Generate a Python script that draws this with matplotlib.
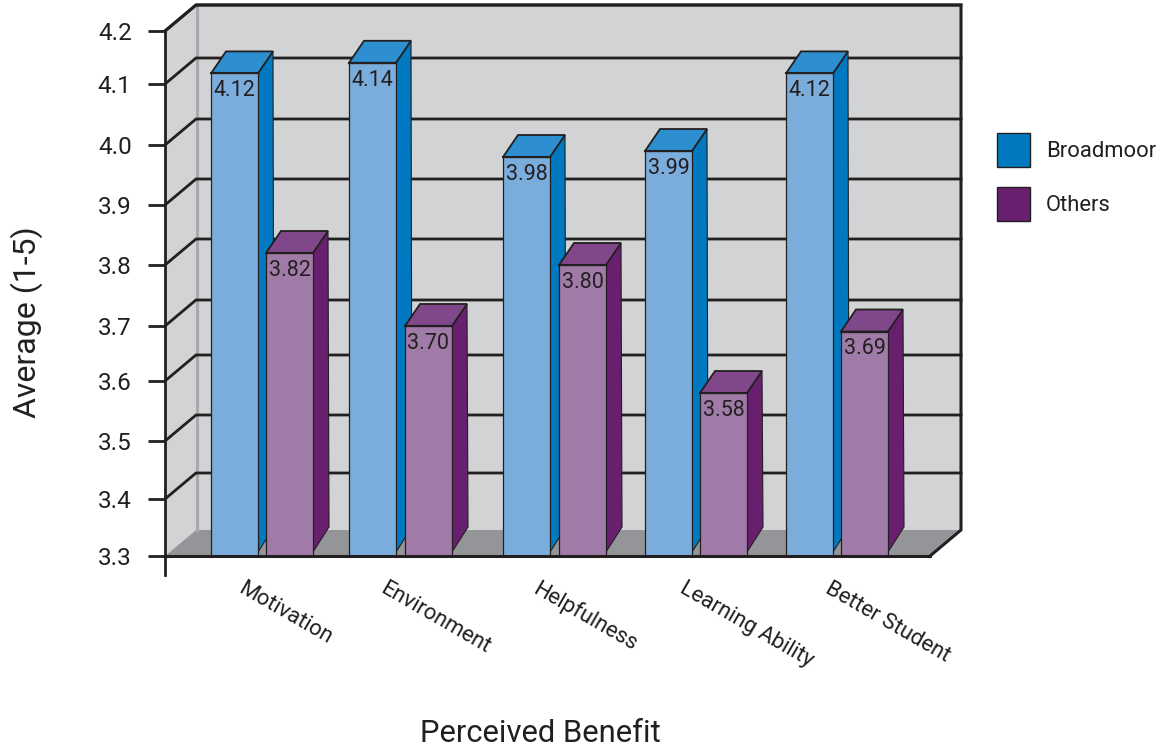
import numpy as np
import matplotlib
matplotlib.use("Agg")
import matplotlib.pyplot as plt
from matplotlib.patches import Polygon, Patch
from matplotlib.lines import Line2D
from matplotlib.transforms import IdentityTransform

plt.rcParams['font.family'] = ['Roboto', 'Liberation Sans', 'DejaVu Sans']

# Survey averages
categories = ['Motivation', 'Environment', 'Helpfulness', 'Learning Ability', 'Better Student']
broadmoor = [4.12, 4.14, 3.98, 3.99, 4.12]
others = [3.82, 3.70, 3.80, 3.58, 3.69]
y_levels = [3.3, 3.4, 3.5, 3.6, 3.7, 3.8, 3.9, 4.0, 4.1, 4.2]

# Layout, in pixels on a 100 dpi canvas
W, H = 1166, 752
X0, X1, Y_BASE, Y_TOP = 165, 930, 556, 31
tick_rows = [556, 499, 441, 381, 326, 265, 205, 145, 84, 31]
blue_left = [211, 349, 503, 645, 786]
purple_left = [266, 405, 559, 700, 841]
BAR_W = 47
label_anchor = [245, 387, 540, 687, 832]
WALL_DX, WALL_DY = 31, 26
BAR_DX, BAR_DY = 15, 22

INK = '#231f20'
WALL = '#d1d3d4'
WALL_EDGE = '#a7a9ac'
FLOOR = '#939598'
BLUE = dict(front='#7aacdc', side='#0079c1', top='#2e8fd0')
PURPLE = dict(front='#a17ba8', side='#68206e', top='#80488a')

# The value axis has slightly uneven spacing between its levels
heights = np.array([Y_BASE - r for r in tick_rows], dtype=float)
levels = np.array(y_levels)


def to_scale(v):
    return np.interp(v, levels, heights)


def from_scale(h):
    return np.interp(h, heights, levels)


fig = plt.figure(figsize=(W / 100, H / 100), dpi=100, facecolor='white')
ax = fig.add_axes([X0 / W, (H - Y_BASE) / H, (X1 - X0) / W, (Y_BASE - Y_TOP) / H])
ax.set_xlim(X0, X1)
ax.set_yscale('function', functions=(to_scale, from_scale))
ax.set_ylim(y_levels[0], y_levels[-1])
ax.patch.set_visible(False)


def px(x, y):
    """Data position to canvas pixels."""
    return ax.transData.transform((x, y))


def poly(points, fc, ec='none', lw=0, z=1):
    ax.add_patch(Polygon(np.array(points), closed=True, fc=fc, ec=ec, lw=lw, zorder=z,
                         transform=IdentityTransform(), clip_on=False, joinstyle='miter'))


def seg(points, color=INK, lw=2.0, z=1.5):
    pts = np.array(points)
    ax.add_line(Line2D(pts[:, 0], pts[:, 1], color=color, lw=lw, zorder=z,
                       transform=IdentityTransform(), clip_on=False,
                       solid_capstyle='projecting', solid_joinstyle='miter'))


depth = np.array([WALL_DX, WALL_DY])
fl, fr = px(X0, y_levels[0]), px(X1, y_levels[0])
tl, tr = px(X0, y_levels[-1]), px(X1, y_levels[-1])

# Left wall, back wall and floor
poly([fl, tl, tl + depth, fl + depth], WALL, z=1)
poly([fl + depth, tl + depth, tr + depth, fr + depth], WALL, z=1)
poly([fl, fl + depth, fr + depth, fr], FLOOR, z=1.1)
seg([fl + depth + [1, 0], tl + depth + [1, 0]], color=WALL_EDGE, lw=2.2, z=1.2)

# Grid lines run along the left wall and across the back wall
for lev in y_levels[1:]:
    p = px(X0, lev)
    q = px(X1, lev)
    seg([p, p + depth, q + depth])
# Outline of the box
seg([tl, tl + depth, tr + depth, fr + depth, fr], lw=2.2, z=1.6)


def bar3d(left, value, colors, label, z):
    ax.bar(left + BAR_W / 2, value - y_levels[0], BAR_W, bottom=y_levels[0], color=colors['front'],
           edgecolor=INK, linewidth=0.9, zorder=z + 0.2)
    a = px(left, value)
    b = px(left + BAR_W, value)
    base = px(left + BAR_W, y_levels[0])
    lift = np.array([BAR_DX, BAR_DY])
    poly([b, b + lift, base + [BAR_DX + 1, 29], base + [0, 4]], colors['side'], ec=INK, lw=0.8, z=z)
    poly([a, a + lift, b + lift, b], colors['top'], ec=INK, lw=1.3, z=z + 0.1)
    seg([a, b], lw=1.5, z=z + 0.3)
    ax.annotate(label, (left + BAR_W / 2, value), xytext=(0, -12.5), textcoords='offset points',
                ha='center', va='center', fontsize=15.5, color=INK, zorder=z + 0.4)


z = 3
for bl, vb, pl, vo in zip(blue_left, broadmoor, purple_left, others):
    bar3d(bl, vb, BLUE, f'{vb:.2f}', z)
    bar3d(pl, vo, PURPLE, f'{vo:.2f}', z + 1)
    z += 2

# Axes
for name in ('top', 'right'):
    ax.spines[name].set_visible(False)
ax.spines['left'].set_color(INK)
ax.spines['left'].set_linewidth(2.0)
ax.spines['left'].set_zorder(30)
ax.spines['bottom'].set_color(INK)
ax.spines['bottom'].set_linewidth(2.2)
ax.spines['bottom'].set_zorder(30)
seg([fl, fl + [0, -19]], lw=2.0, z=30)

ax.set_yticks(y_levels, [f'{v:.1f}' for v in y_levels])
ax.minorticks_off()
ax.tick_params(axis='y', length=12, width=2.0, color=INK, labelsize=17.5, labelcolor=INK, pad=12)
ax.set_xticks(label_anchor, categories)
ax.tick_params(axis='x', length=0, labelsize=15.8, labelcolor=INK, pad=16)
for t in ax.get_xticklabels():
    t.set_rotation(-30)
    t.set_rotation_mode('anchor')
    t.set_ha('left')
    t.set_va('top')

ax.set_ylabel('Average (1-5)', fontsize=23, color=INK, va='center', ha='center')
ax.yaxis.set_label_coords((27 - X0) / (X1 - X0), (Y_BASE - 322) / (Y_BASE - Y_TOP))
ax.set_xlabel('Perceived Benefit', fontsize=22.3, color=INK, va='center', ha='center')
ax.xaxis.set_label_coords((540 - X0) / (X1 - X0), (Y_BASE - 734) / (Y_BASE - Y_TOP))

handles = [Patch(fc=BLUE['side'], ec=INK, lw=1.0, label='Broadmoor'),
           Patch(fc=PURPLE['side'], ec=INK, lw=1.0, label='Others')]
ax.legend(handles=handles, loc='upper left', bbox_to_anchor=(997 / W, (H - 133) / H),
          bbox_transform=fig.transFigure, frameon=False, fontsize=15.8, labelcolor=INK,
          borderpad=0, borderaxespad=0, handlelength=1.5, handleheight=2.01,
          handletextpad=0.73, labelspacing=0.91)

fig.savefig('out.png', dpi=100)
